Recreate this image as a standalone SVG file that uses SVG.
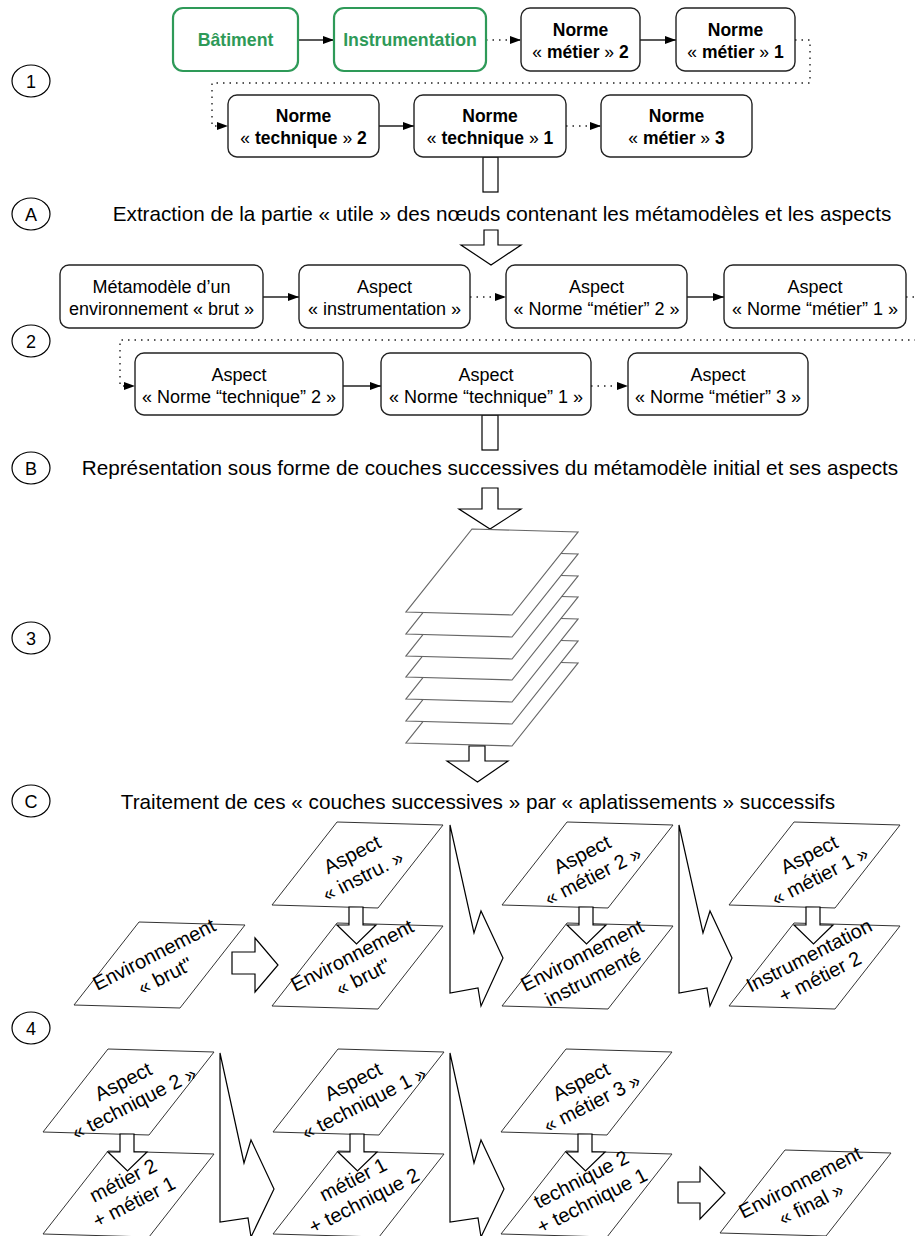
<svg xmlns="http://www.w3.org/2000/svg" width="915" height="1236" viewBox="0 0 915 1236">
<defs>
<marker id="ah" markerWidth="11" markerHeight="8" refX="11" refY="4" orient="auto" markerUnits="userSpaceOnUse"><path d="M0,0 L11,4 L0,8 z" fill="#000"/></marker>
<style>
text{font-family:"Liberation Sans",Arial,Helvetica,sans-serif;fill:#000}
.box{fill:#fff;stroke:#222;stroke-width:1.4}
.gbox{fill:#fff;stroke:#2e9a58;stroke-width:2.2}
.gt{fill:#2e9a58;font-weight:bold;font-size:17.7px}
.bt{font-weight:bold;font-size:17.5px}
.gu{font-weight:normal}
.rt{font-size:18px}
.hd{font-size:20.7px}
.cl{fill:#fff;stroke:#000;stroke-width:1.2}
.ct{font-size:18px}
.sol{fill:none;stroke:#222;stroke-width:1.4}
.dot{fill:none;stroke:#222;stroke-width:1.4;stroke-dasharray:1.5 5}
.blk{fill:#fff;stroke:#000;stroke-width:1.2;stroke-linejoin:miter}
.lay{fill:#fff;stroke:#666;stroke-width:1.2}
.par{fill:#fff;stroke:#333;stroke-width:1}
.pt{font-size:20px}
</style>
</defs>
<rect width="915" height="1236" fill="#fff"/>

<!-- step circles -->
<g id="c1"><ellipse class="cl" cx="31" cy="81" rx="19" ry="16"/><text class="ct" x="31" y="87.5" text-anchor="middle">1</text></g>
<g id="cA"><ellipse class="cl" cx="31" cy="214" rx="19" ry="16"/><text class="ct" x="31" y="220.5" text-anchor="middle">A</text></g>
<g id="c2"><ellipse class="cl" cx="31" cy="341" rx="19" ry="16"/><text class="ct" x="31" y="347.5" text-anchor="middle">2</text></g>
<g id="cB"><ellipse class="cl" cx="31" cy="468" rx="19" ry="16"/><text class="ct" x="31" y="474.5" text-anchor="middle">B</text></g>
<g id="c3"><ellipse class="cl" cx="31" cy="638" rx="19" ry="16"/><text class="ct" x="31" y="644.5" text-anchor="middle">3</text></g>
<g id="cC"><ellipse class="cl" cx="31" cy="801" rx="19" ry="16"/><text class="ct" x="31" y="807.5" text-anchor="middle">C</text></g>
<g id="c4"><ellipse class="cl" cx="31" cy="1028" rx="19" ry="16"/><text class="ct" x="31" y="1034.5" text-anchor="middle">4</text></g>

<!-- headings -->
<text id="hA" class="hd" x="502" y="221" text-anchor="middle">Extraction de la partie « utile » des nœuds contenant les métamodèles et les aspects</text>
<text id="hB" class="hd" x="490" y="475" text-anchor="middle">Représentation sous forme de couches successives du métamodèle initial et ses aspects</text>
<text id="hC" class="hd" x="478" y="809" text-anchor="middle">Traitement de ces « couches successives » par « aplatissements » successifs</text>

<!-- connectors -->
<g id="connectors">
<line class="sol" x1="298" y1="40" x2="334" y2="40" marker-end="url(#ah)"/>
<line class="dot" x1="486" y1="40" x2="521" y2="40" marker-end="url(#ah)"/>
<line class="sol" x1="640" y1="40" x2="676" y2="40" marker-end="url(#ah)"/>
<polyline class="dot" points="795,40 810,40 810,83 212,83 212,126 228,126" marker-end="url(#ah)"/>
<line class="sol" x1="379" y1="126" x2="414" y2="126" marker-end="url(#ah)"/>
<line class="dot" x1="566" y1="126" x2="601" y2="126" marker-end="url(#ah)"/>

<line class="sol" x1="263" y1="297" x2="299" y2="297" marker-end="url(#ah)"/>
<line class="dot" x1="470" y1="297" x2="506" y2="297" marker-end="url(#ah)"/>
<line class="sol" x1="687" y1="297" x2="724" y2="297" marker-end="url(#ah)"/>
<polyline class="dot" points="906,297 922,297 922,340 120,340 120,386 135,386" marker-end="url(#ah)"/>
<line class="sol" x1="343" y1="386" x2="381" y2="386" marker-end="url(#ah)"/>
<line class="dot" x1="591" y1="386" x2="628" y2="386" marker-end="url(#ah)"/>

<!-- block arrows -->
<rect class="blk" x="483" y="157" width="15" height="35"/>
<path class="blk" d="M484,230 L498,230 L498,245 L521,245 L491,265 L461,245 L484,245 Z"/>
<rect class="blk" x="482" y="415" width="16" height="35"/>
<path class="blk" d="M482,488 L498,488 L498,509 L521,509 L490,529 L459,509 L482,509 Z"/>
</g>

<!-- row 1 nodes -->
<g id="n-batiment"><rect class="gbox" x="173" y="8" width="125" height="63" rx="10"/><text class="gt" x="235.5" y="46" text-anchor="middle">Bâtiment</text></g>
<g id="n-instrumentation"><rect class="gbox" x="334" y="8" width="152" height="63" rx="10"/><text class="gt" x="410" y="46" text-anchor="middle">Instrumentation</text></g>
<g id="n-metier2"><rect class="box" x="521" y="8" width="119" height="63" rx="9"/><text class="bt" x="580.5" y="36" text-anchor="middle">Norme</text><text class="bt" x="580.5" y="58" text-anchor="middle"><tspan class="gu">« </tspan>métier<tspan class="gu"> » </tspan>2</text></g>
<g id="n-metier1"><rect class="box" x="676" y="8" width="119" height="63" rx="9"/><text class="bt" x="735.5" y="36" text-anchor="middle">Norme</text><text class="bt" x="735.5" y="58" text-anchor="middle"><tspan class="gu">« </tspan>métier<tspan class="gu"> » </tspan>1</text></g>
<g id="n-tech2"><rect class="box" x="228" y="95" width="151" height="62" rx="9"/><text class="bt" x="303.5" y="122" text-anchor="middle">Norme</text><text class="bt" x="303.5" y="144" text-anchor="middle"><tspan class="gu">« </tspan>technique<tspan class="gu"> » </tspan>2</text></g>
<g id="n-tech1"><rect class="box" x="414" y="95" width="152" height="62" rx="9"/><text class="bt" x="490" y="122" text-anchor="middle">Norme</text><text class="bt" x="490" y="144" text-anchor="middle"><tspan class="gu">« </tspan>technique<tspan class="gu"> » </tspan>1</text></g>
<g id="n-metier3"><rect class="box" x="601" y="95" width="151" height="62" rx="9"/><text class="bt" x="676.5" y="122" text-anchor="middle">Norme</text><text class="bt" x="676.5" y="144" text-anchor="middle"><tspan class="gu">« </tspan>métier<tspan class="gu"> » </tspan>3</text></g>

<!-- row 2 nodes -->
<g id="a-meta"><rect class="box" x="60" y="265" width="203" height="63" rx="9"/><text class="rt" x="161.5" y="293" text-anchor="middle">Métamodèle d’un</text><text class="rt" x="161.5" y="315" text-anchor="middle">environnement « brut »</text></g>
<g id="a-instru"><rect class="box" x="299" y="265" width="171" height="63" rx="9"/><text class="rt" x="384.5" y="293" text-anchor="middle">Aspect</text><text class="rt" x="384.5" y="315" text-anchor="middle">« instrumentation »</text></g>
<g id="a-metier2"><rect class="box" x="506" y="265" width="181" height="63" rx="9"/><text class="rt" x="596.5" y="293" text-anchor="middle">Aspect</text><text class="rt" x="596.5" y="315" text-anchor="middle">« Norme “métier” 2 »</text></g>
<g id="a-metier1"><rect class="box" x="724" y="265" width="182" height="63" rx="9"/><text class="rt" x="815" y="293" text-anchor="middle">Aspect</text><text class="rt" x="815" y="315" text-anchor="middle">« Norme “métier” 1 »</text></g>
<g id="a-tech2"><rect class="box" x="135" y="353" width="208" height="62" rx="9"/><text class="rt" x="239" y="381" text-anchor="middle">Aspect</text><text class="rt" x="239" y="403" text-anchor="middle">« Norme “technique” 2 »</text></g>
<g id="a-tech1"><rect class="box" x="381" y="353" width="210" height="62" rx="9"/><text class="rt" x="486" y="381" text-anchor="middle">Aspect</text><text class="rt" x="486" y="403" text-anchor="middle">« Norme “technique” 1 »</text></g>
<g id="a-metier3"><rect class="box" x="628" y="353" width="180" height="62" rx="9"/><text class="rt" x="718" y="381" text-anchor="middle">Aspect</text><text class="rt" x="718" y="403" text-anchor="middle">« Norme “métier” 3 »</text></g>

<!-- layer stack -->
<g id="stack">
<polygon class="lay" points="472,660 578,663 512,746 406,743"/>
<polygon class="lay" points="472,638 578,641 512,724 406,721"/>
<polygon class="lay" points="472,616 578,619 512,702 406,699"/>
<polygon class="lay" points="472,594 578,597 512,680 406,677"/>
<polygon class="lay" points="472,573 578,576 512,659 406,656"/>
<polygon class="lay" points="472,551 578,554 512,637 406,634"/>
<polygon class="lay" points="472,529 578,532 512,615 406,612"/>
<path class="blk" d="M469,746 L485,746 L485,761 L508,761 L477.5,782 L447,761 L469,761 Z"/>
</g>

<!-- section C parallelograms -->
<g id="p-envbrut1"><polygon class="par" points="139,922 245,925 180,1008 74,1005"/><text class="pt" transform="translate(159.5,965) rotate(-27)" text-anchor="middle"><tspan x="0" y="-5">Environnement</tspan><tspan x="0" y="19">« brut"</tspan></text></g>
<path class="blk" d="M232,952 L255,952 L255,938 L278,965 L255,992 L255,974 L232,974 Z"/>

<g id="p-envbrut2"><polygon class="par" points="337,923 443,926 378,1009 272,1006"/><text class="pt" transform="translate(357.5,966) rotate(-27)" text-anchor="middle"><tspan x="0" y="-5">Environnement</tspan><tspan x="0" y="19">« brut"</tspan></text></g>
<g id="p-instru"><polygon class="par" points="337,822 443,825 378,908 272,905"/><text class="pt" transform="translate(357.5,865) rotate(-27)" text-anchor="middle"><tspan x="0" y="-5">Aspect</tspan><tspan x="0" y="19">« instru. »</tspan></text></g>
<path class="blk" d="M349,907 L363,907 L363,925 L376,925 L356.5,944 L337,925 L349,925 Z"/>

<g id="p-envinstr"><polygon class="par" points="567,923 673,926 608,1009 502,1006"/><text class="pt" transform="translate(587.5,966) rotate(-27)" text-anchor="middle"><tspan x="0" y="-5">Environnement</tspan><tspan x="0" y="19">instrumenté</tspan></text></g>
<g id="p-metier2"><polygon class="par" points="567,822 673,825 608,908 502,905"/><text class="pt" transform="translate(587.5,865) rotate(-27)" text-anchor="middle"><tspan x="0" y="-5">Aspect</tspan><tspan x="0" y="19">« métier 2 »</tspan></text></g>
<path class="blk" d="M579,907 L593,907 L593,925 L606,925 L586.5,944 L567,925 L579,925 Z"/>

<g id="p-instrm2"><polygon class="par" points="794,923 900,926 835,1009 729,1006"/><text class="pt" transform="translate(814.5,966) rotate(-27)" text-anchor="middle"><tspan x="0" y="-5">Instrumentation</tspan><tspan x="0" y="19">+ métier 2</tspan></text></g>
<g id="p-metier1"><polygon class="par" points="794,822 900,825 835,908 729,905"/><text class="pt" transform="translate(814.5,865) rotate(-27)" text-anchor="middle"><tspan x="0" y="-5">Aspect</tspan><tspan x="0" y="19">« métier 1 »</tspan></text></g>
<path class="blk" d="M806,907 L820,907 L820,925 L833,925 L813.5,944 L794,925 L806,925 Z"/>

<!-- thin arrows -->
<path class="blk" d="M450,825 L474,933 L481,911 L503,958 L481,1006 L478,988 L450,993 Z"/>
<path class="blk" d="M679,825 L703,933 L710,911 L732,958 L710,1006 L707,988 L679,993 Z"/>
<path class="blk" d="M220,1053 L244,1163 L251,1140 L274,1189 L251,1237 L248,1218 L220,1222 Z"/>
<path class="blk" d="M450,1053 L474,1163 L481,1140 L504,1189 L481,1237 L478,1218 L450,1222 Z"/>

<!-- section 4 parallelograms -->
<g id="p-m2m1"><polygon class="par" points="108,1151 214,1154 149,1237 43,1234"/><text class="pt" transform="translate(128.5,1191) rotate(-27)" text-anchor="middle"><tspan x="0" y="-5">métier 2</tspan><tspan x="0" y="19">+ métier 1</tspan></text></g>
<g id="p-tech2"><polygon class="par" points="108,1049 214,1052 149,1135 43,1132"/><text class="pt" transform="translate(128.5,1092) rotate(-27)" text-anchor="middle"><tspan x="0" y="-5">Aspect</tspan><tspan x="0" y="19">« technique 2 »</tspan></text></g>
<path class="blk" d="M120,1134 L134,1134 L134,1152 L147,1152 L127.5,1171 L108,1152 L120,1152 Z"/>

<g id="p-m1t2"><polygon class="par" points="338,1151 444,1154 379,1237 273,1234"/><text class="pt" transform="translate(358.5,1190) rotate(-27)" text-anchor="middle"><tspan x="0" y="-5">métier 1</tspan><tspan x="0" y="19">+ technique 2</tspan></text></g>
<g id="p-tech1"><polygon class="par" points="338,1049 444,1052 379,1135 273,1132"/><text class="pt" transform="translate(358.5,1092) rotate(-27)" text-anchor="middle"><tspan x="0" y="-5">Aspect</tspan><tspan x="0" y="19">« technique 1 »</tspan></text></g>
<path class="blk" d="M350,1134 L364,1134 L364,1152 L377,1152 L357.5,1171 L338,1152 L350,1152 Z"/>

<g id="p-t2t1"><polygon class="par" points="566,1151 672,1154 607,1237 501,1234"/><text class="pt" transform="translate(586.5,1190) rotate(-27)" text-anchor="middle"><tspan x="0" y="-5">technique 2</tspan><tspan x="0" y="19">+ technique 1</tspan></text></g>
<g id="p-metier3"><polygon class="par" points="566,1049 672,1052 607,1135 501,1132"/><text class="pt" transform="translate(586.5,1092) rotate(-27)" text-anchor="middle"><tspan x="0" y="-5">Aspect</tspan><tspan x="0" y="19">« métier 3 »</tspan></text></g>
<path class="blk" d="M578,1134 L592,1134 L592,1152 L605,1152 L585.5,1171 L566,1152 L578,1152 Z"/>

<path class="blk" d="M678,1182 L700,1182 L700,1167 L725,1193 L700,1219 L700,1203 L678,1203 Z"/>
<g id="p-final"><polygon class="par" points="785,1150 891,1153 826,1236 720,1233"/><text class="pt" transform="translate(805.5,1193) rotate(-27)" text-anchor="middle"><tspan x="0" y="-5">Environnement</tspan><tspan x="0" y="19">« final »</tspan></text></g>
</svg>
